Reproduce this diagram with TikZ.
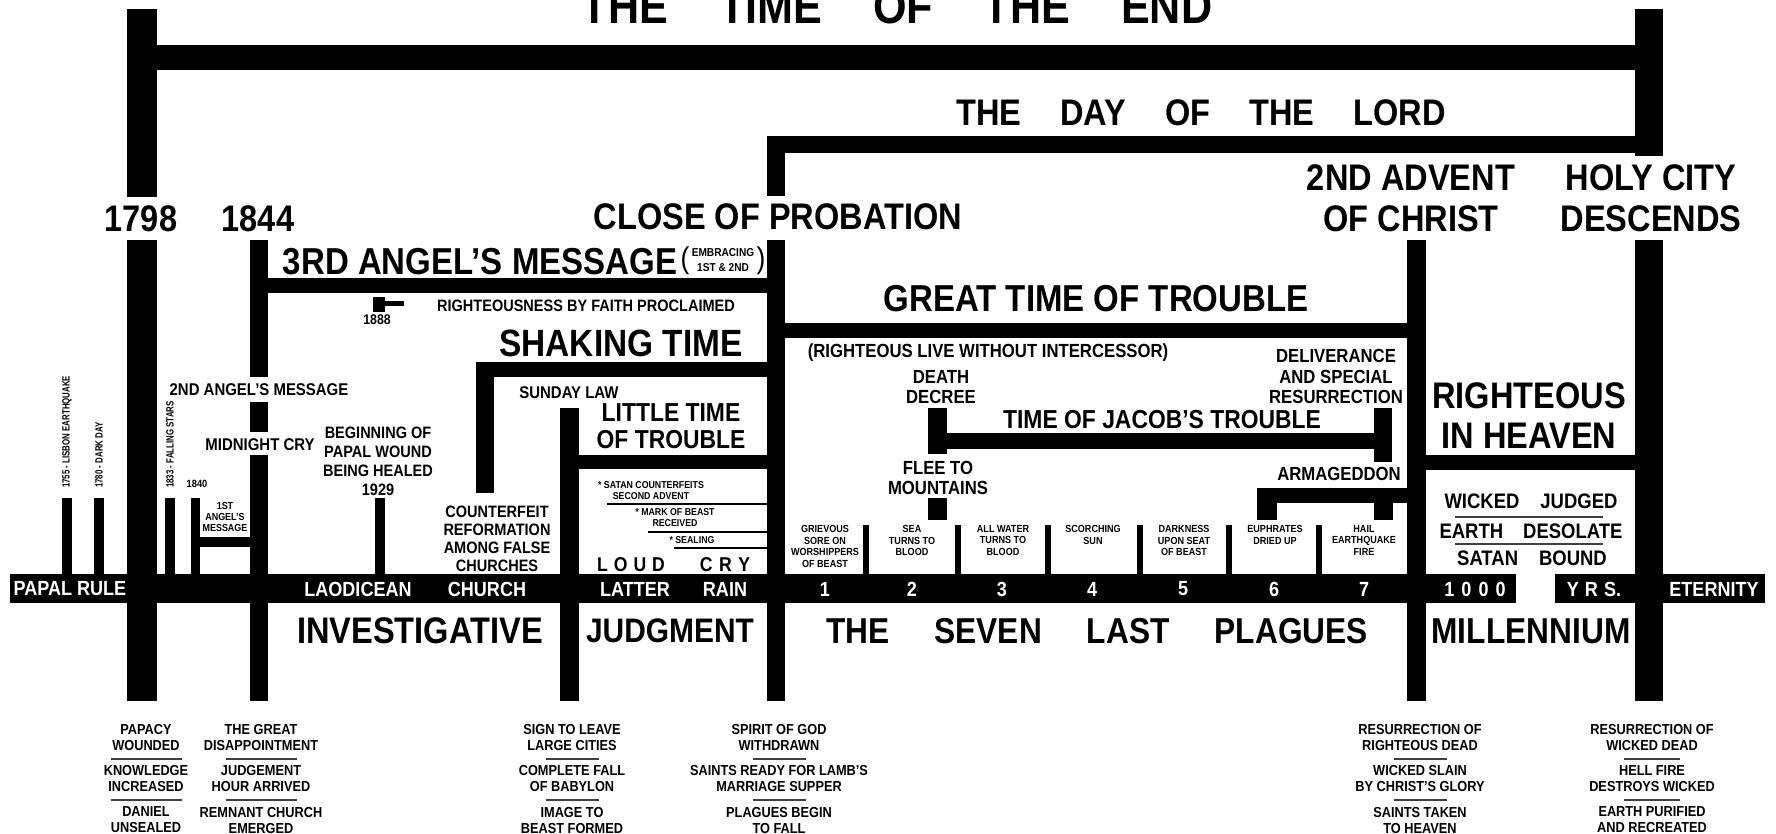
\documentclass[tikz,border=0pt]{standalone}
\usepackage{fontspec}
\setmainfont{Liberation Sans}[FakeStretch=0.88]
\newfontfamily\narrowfont{Liberation Sans}[FakeStretch=0.75]
\newcommand{\sz}[2]{\fontsize{#1}{#2}\selectfont\bfseries}

\begin{document}
\begin{tikzpicture}[x=1pt,y=-1pt,
    bar/.style={fill=black},
    rule/.style={draw=black!75,line width=1.5pt},
    thinrule/.style={draw=black,line width=1.1pt},
    lbl/.style={inner sep=0pt,align=center},
    inbar/.style={lbl,text=white,font=\sz{20.5}{22}},
    plague/.style={lbl,anchor=north,font=\sz{10.3}{11.7}},
    foot/.style={lbl,font=\sz{14.5}{16}}]
\fill[white] (0,0) rectangle (1776,834);
\useasboundingbox (0,0) rectangle (1776,834);

% the time of the end
\fill[bar] (127,45) rectangle (1663,70);
\fill[bar] (127,9) rectangle (157,197);
\fill[bar] (127,240) rectangle (157,701);
\fill[bar] (1635,9) rectangle (1663,156);
\fill[bar] (1635,240) rectangle (1663,701);
% the day of the lord
\fill[bar] (767,136) rectangle (1663,153);
\fill[bar] (767,136) rectangle (785,196);
\fill[bar] (767,240) rectangle (785,701);
\fill[bar] (1407,240) rectangle (1426,701);
% 1844 and the messages
\fill[bar] (250,240) rectangle (268,377);
\fill[bar] (250,402) rectangle (268,432);
\fill[bar] (250,455) rectangle (268,701);
\fill[bar] (268,278) rectangle (767,293);
\fill[bar] (373,297) rectangle (385,312);
\fill[bar] (385,301) rectangle (404,306);
\fill[bar] (476,362) rectangle (767,377);
\fill[bar] (476,362) rectangle (494,493);
\fill[bar] (560,408) rectangle (579,701);
\fill[bar] (579,455) rectangle (767,469);
\draw[thinrule] (607,504) -- (767,504);
\draw[thinrule] (648,532) -- (767,532);
\draw[thinrule] (674,548) -- (767,548);
% great time of trouble
\fill[bar] (785,323) rectangle (1407,338);
\fill[bar] (928,408) rectangle (947,454);
\fill[bar] (947,433) rectangle (1374,449);
\fill[bar] (1374,408) rectangle (1392,462);
\fill[bar] (928,498) rectangle (947,520);
\fill[bar] (1257,488) rectangle (1407,503);
\fill[bar] (1257,503) rectangle (1277,520);
\fill[bar] (1374,503) rectangle (1393,520);
\fill[bar] (863,525) rectangle (869,574);
\fill[bar] (955,525) rectangle (961,574);
\fill[bar] (1045,525) rectangle (1051,574);
\fill[bar] (1137,525) rectangle (1143,574);
\fill[bar] (1226,525) rectangle (1232,574);
\fill[bar] (1316,525) rectangle (1322,574);
% millennium
\fill[bar] (1426,455) rectangle (1635,470);
\draw[rule] (1455,517) -- (1603,517);
\draw[rule] (1455,544) -- (1603,544);
% early signs
\fill[bar] (62,498) rectangle (72,574);
\fill[bar] (94,498) rectangle (104,574);
\fill[bar] (165,498) rectangle (175,574);
\fill[bar] (191,498) rectangle (200,574);
\fill[bar] (200,537) rectangle (250,547);
\fill[bar] (375,498) rectangle (385,574);
% main time line
\fill[bar] (10,574) rectangle (1516,603);
\fill[bar] (1555,574) rectangle (1765,603);

% headings
\node[lbl,font=\sz{49}{52}] (title) at (897,7) {THE\hspace{51pt}TIME\hspace{51pt}OF\hspace{51pt}THE\hspace{51pt}END};
\node[lbl,font=\sz{37}{40}] (daylord) at (1201,113) {THE\hspace{39pt}DAY\hspace{39pt}OF\hspace{39pt}THE\hspace{39pt}LORD};
\node[lbl,font=\sz{37}{41}] (y1798) at (141,219) {1798};
\node[lbl,font=\sz{37}{41}] (y1844) at (258,219) {1844};
\node[lbl,font=\sz{37}{41}] (close) at (778,217) {CLOSE OF PROBATION};
\node[lbl,font=\sz{37}{41}] (advent) at (1411,198.5) {2ND ADVENT\\OF CHRIST};
\node[lbl,font=\sz{37}{41}] (holycity) at (1651,198.5) {HOLY CITY\\DESCENDS};

% investigative judgment
\node[lbl,font=\sz{37.5}{40}] (third) at (480,262) {3RD ANGEL'S MESSAGE};
\node[lbl,font=\sz{11.5}{15}] (embracing) at (723,260.5) {EMBRACING\\1ST \& 2ND};
\node[lbl,font=\fontsize{30}{30}\selectfont] (lpar) at (685,261) {(};
\node[lbl,font=\fontsize{30}{30}\selectfont] (rpar) at (761,261) {)};
\node[lbl,font=\sz{16.5}{18}] (faith) at (586,306) {RIGHTEOUSNESS BY FAITH PROCLAIMED};
\node[lbl,font=\sz{14}{16}] (y1888) at (377,320) {1888};
\node[lbl,font=\sz{38}{40}] (shaking) at (621,343) {SHAKING TIME};
\node[lbl,font=\sz{17}{19}] (second) at (259,390) {2ND ANGEL'S MESSAGE};
\node[lbl,font=\sz{17}{19}] (midnight) at (260,445) {MIDNIGHT CRY};
\node[lbl,font=\sz{16.5}{19}] (wound) at (378,461.5) {BEGINNING OF\\PAPAL WOUND\\BEING HEALED\\1929};
\node[lbl,font=\sz{16.5}{18}] (counterfeit) at (497,539) {COUNTERFEIT\\REFORMATION\\AMONG FALSE\\CHURCHES};
\node[lbl,font=\sz{17}{19}] (sunday) at (569,393) {SUNDAY LAW};
\node[lbl,font=\sz{26}{27}] (little) at (671,426.5) {LITTLE TIME\\OF TROUBLE};
\node[lbl,font=\sz{10}{11}] (counterfeits) at (651,490.5) {* SATAN COUNTERFEITS\\SECOND ADVENT};
\node[lbl,font=\sz{10}{11}] (mark) at (675,517.5) {* MARK OF BEAST\\RECEIVED};
\node[lbl,font=\sz{10}{11}] (sealing) at (692,540) {* SEALING};
\node[lbl,font=\sz{20}{22}] (loud) at (631,565) {L\hspace{6pt}O\hspace{6pt}U\hspace{6pt}D};
\node[lbl,font=\sz{20}{22}] (cry) at (725,565) {C\hspace{6.5pt}R\hspace{6.5pt}Y};

% early signs
\node[lbl,font=\narrowfont\sz{10.5}{12},rotate=90,anchor=west] (lisbon) at (67,488) {1755 - LISBON EARTHQUAKE};
\node[lbl,font=\narrowfont\sz{10.5}{12},rotate=90,anchor=west] (darkday) at (99,488) {1780 - DARK DAY};
\node[lbl,font=\narrowfont\sz{10.5}{12},rotate=90,anchor=west] (stars) at (170,488) {1833 - FALLING STARS};
\node[lbl,font=\sz{10.5}{12}] (y1840) at (197,484) {1840};
\node[lbl,font=\sz{10.2}{11}] (first) at (225,517) {1ST\\ANGEL'S\\MESSAGE};

% great time of trouble
\node[lbl,font=\sz{37.5}{40}] (great) at (1096,299) {GREAT TIME OF TROUBLE};
\node[lbl,font=\sz{19}{20}] (intercessor) at (988,353) {(RIGHTEOUS LIVE WITHOUT INTERCESSOR)};
\node[lbl,font=\sz{19}{20}] (death) at (941,387) {DEATH\\DECREE};
\node[lbl,font=\sz{19}{20.5}] (deliverance) at (1336,376.5) {DELIVERANCE\\AND SPECIAL\\RESURRECTION};
\node[lbl,font=\sz{26}{28}] (jacob) at (1162,420) {TIME OF JACOB'S TROUBLE};
\node[lbl,font=\sz{19}{20}] (flee) at (938,478) {FLEE TO\\MOUNTAINS};
\node[lbl,font=\sz{19}{20}] (armageddon) at (1339,474) {ARMAGEDDON};
\node[plague] (p1) at (825,525) {GRIEVOUS\\SORE ON\\WORSHIPPERS\\OF BEAST};
\node[plague] (p2) at (912,525) {SEA\\TURNS TO\\BLOOD};
\node[plague] (p3) at (1003,525) {ALL WATER\\TURNS TO\\BLOOD};
\node[plague] (p4) at (1093,525) {SCORCHING\\SUN};
\node[plague] (p5) at (1184,525) {DARKNESS\\UPON SEAT\\OF BEAST};
\node[plague] (p6) at (1275,525) {EUPHRATES\\DRIED UP};
\node[plague] (p7) at (1364,525) {HAIL\\EARTHQUAKE\\FIRE};

% millennium
\node[lbl,font=\sz{37}{40}] (heaven) at (1529,416) {RIGHTEOUS\\IN HEAVEN};
\node[lbl,font=\sz{21}{22}] (judged) at (1531,501) {WICKED\hspace{21pt}JUDGED};
\node[lbl,font=\sz{21}{22}] (desolate) at (1531,531) {EARTH\hspace{20pt}DESOLATE};
\node[lbl,font=\sz{21}{22}] (bound) at (1532,558) {SATAN\hspace{21pt}BOUND};

% words on the time line
\node[inbar] (papal) at (70,589) {PAPAL RULE};
\node[inbar] (laodicean) at (358,589) {LAODICEAN};
\node[inbar] (church) at (487,589) {CHURCH};
\node[inbar] (latter) at (635,589) {LATTER};
\node[inbar] (rain) at (725,589) {RAIN};
\node[inbar] (n1) at (825,589) {1};
\node[inbar] (n2) at (912,589) {2};
\node[inbar] (n3) at (1002,589) {3};
\node[inbar] (n4) at (1092,589) {4};
\node[inbar] (n5) at (1183,589) {5};
\node[inbar] (n6) at (1274,589) {6};
\node[inbar] (n7) at (1364,589) {7};
\node[inbar] (thousand) at (1475,589) {1\hspace{7pt}0\hspace{7pt}0\hspace{7pt}0};
\node[inbar] (years) at (1594,589) {Y\hspace{6pt}R\hspace{6pt}S.};
\node[inbar] (eternity) at (1714,589) {ETERNITY};

% periods under the line
\node[lbl,font=\sz{37}{40}] (investigative) at (420,631) {INVESTIGATIVE};
\node[lbl,font=\sz{34}{40}] (judgment) at (670,631) {JUDGMENT};
\node[lbl,font=\sz{36}{40}] (plagues) at (1097,631) {THE\hspace{45pt}SEVEN\hspace{45pt}LAST\hspace{45pt}PLAGUES};
\node[lbl,font=\sz{36}{40}] (millennium) at (1531,631) {MILLENNIUM};

% events at the foot of the bars
\node[foot] (papacy) at (146,737.5) {PAPACY\\WOUNDED};
\node[foot] (knowledge) at (146,778.5) {KNOWLEDGE\\INCREASED};
\node[foot] (daniel) at (146,820) {DANIEL\\UNSEALED};
\draw[rule] (110.5,759) -- (181.5,759);
\draw[rule] (110.5,800) -- (181.5,800);
\node[foot] (disappointment) at (261,737.5) {THE GREAT\\DISAPPOINTMENT};
\node[foot] (hour) at (261,778.5) {JUDGEMENT\\HOUR ARRIVED};
\node[foot] (remnant) at (261,820) {REMNANT CHURCH\\EMERGED};
\draw[rule] (225.5,759) -- (296.5,759);
\draw[rule] (225.5,800) -- (296.5,800);
\node[foot] (cities) at (572,737.5) {SIGN TO LEAVE\\LARGE CITIES};
\node[foot] (babylon) at (572,778.5) {COMPLETE FALL\\OF BABYLON};
\node[foot] (image) at (572,820) {IMAGE TO\\BEAST FORMED};
\draw[rule] (545.5,759) -- (598.5,759);
\draw[rule] (545.5,800) -- (598.5,800);
\node[foot] (spirit) at (779,737.5) {SPIRIT OF GOD\\WITHDRAWN};
\node[foot] (supper) at (779,778.5) {SAINTS READY FOR LAMB'S\\MARRIAGE SUPPER};
\node[foot] (begin) at (779,820) {PLAGUES BEGIN\\TO FALL};
\draw[rule] (752.5,759) -- (805.5,759);
\draw[rule] (752.5,800) -- (805.5,800);
\node[foot] (righteousdead) at (1420,737.5) {RESURRECTION OF\\RIGHTEOUS DEAD};
\node[foot] (slain) at (1420,778.5) {WICKED SLAIN\\BY CHRIST'S GLORY};
\node[foot] (taken) at (1420,820) {SAINTS TAKEN\\TO HEAVEN};
\draw[rule] (1393.5,759) -- (1446.5,759);
\draw[rule] (1393.5,800) -- (1446.5,800);
\node[foot] (wickeddead) at (1652,737.5) {RESURRECTION OF\\WICKED DEAD};
\node[foot] (hellfire) at (1652,778.5) {HELL FIRE\\DESTROYS WICKED};
\node[foot] (purified) at (1652,820) {EARTH PURIFIED\\AND RECREATED};
\draw[rule] (1624,759) -- (1680,759);
\draw[rule] (1624,800) -- (1680,800);
\end{tikzpicture}
\end{document}
